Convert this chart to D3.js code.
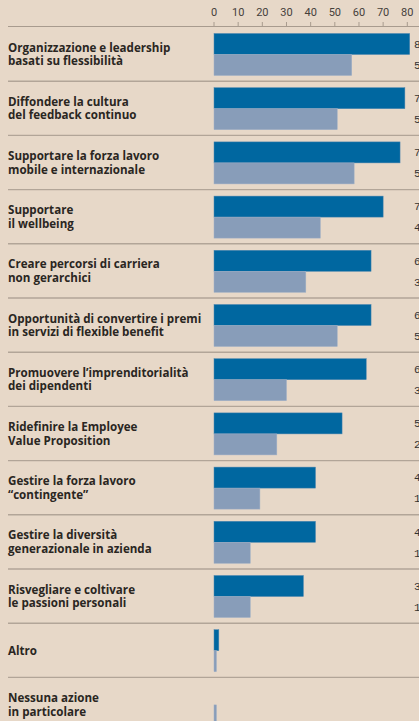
<!DOCTYPE html>
<html>
<head>
<meta charset="utf-8">
<script src="https://cdn.jsdelivr.net/npm/d3@7"></script>
<style>
  html, body { margin: 0; padding: 0; background: #e7d8c8; overflow: hidden; }
  svg { display: block; }
</style>
</head>
<body>
<div id="chart"></div>
<script>
const categories = [
  "Organizzazione e leadership\nbasati su flessibilità",
  "Diffondere la cultura\ndel feedback continuo",
  "Supportare la forza lavoro\nmobile e internazionale",
  "Supportare\nil wellbeing",
  "Creare percorsi di carriera\nnon gerarchici",
  "Opportunità di convertire i premi\nin servizi di flexible benefit",
  "Promuovere l’imprenditorialità\ndei dipendenti",
  "Ridefinire la Employee\nValue Proposition",
  "Gestire la forza lavoro\n“contingente”",
  "Gestire la diversità\ngenerazionale in azienda",
  "Risvegliare e coltivare\nle passioni personali",
  "Altro",
  "Nessuna azione\nin particolare"
];
const seriesA = [81, 79, 77, 70, 65, 65, 63, 53, 42, 42, 37, 2, 0];
const seriesB = [57, 51, 58, 44, 38, 51, 30, 26, 19, 15, 15, 1, 1];
const tickValues = [0, 10, 20, 30, 40, 50, 60, 70, 80];
// the last two rows carry no value labels in the original
const labelledRows = 11;

const width = 419, height = 721;

const svg = d3.select("#chart").append("svg")
  .attr("width", width)
  .attr("height", height);

// horizontal value scale, 0 sits just right of the labels
const x = d3.scaleLinear().domain([0, 80]).range([214, 407.3]);

// one band per question
const y = d3.scaleBand()
  .domain(categories)
  .range([27, 27 + categories.length * 54.2]);

const rows = categories.map((c, i) => ({label: c, a: seriesA[i], b: seriesB[i], i}));

// top axis
svg.append("line")
  .attr("x1", 8).attr("x2", width)
  .attr("y1", 26.5).attr("y2", 26.5)
  .attr("stroke", "#a89b8e")
  .attr("stroke-width", 1.2);

svg.selectAll(".tick")
  .data(tickValues)
  .join("line")
  .attr("class", "tick")
  .attr("x1", d => x(d)).attr("x2", d => x(d))
  .attr("y1", 22).attr("y2", 26.5)
  .attr("stroke", "#a89b8e")
  .attr("stroke-width", 1);

svg.selectAll(".tick-label")
  .data(tickValues)
  .join("text")
  .attr("class", "tick-label")
  .attr("x", d => x(d))
  .attr("y", 16)
  .attr("text-anchor", "middle")
  .attr("font-family", "Roboto, 'DejaVu Sans', sans-serif")
  .attr("font-size", 11)
  .attr("fill", "#45403b")
  .text(d => d);

const row = svg.selectAll(".row")
  .data(rows)
  .join("g")
  .attr("class", "row")
  .attr("transform", d => `translate(0,${y(d.label)})`);

// separator under each row (except the last, cut off by the frame)
row.filter(d => d.i < rows.length - 1)
  .append("line")
  .attr("x1", 8).attr("x2", width)
  .attr("y1", y.bandwidth()).attr("y2", y.bandwidth())
  .attr("stroke", "#b2a598")
  .attr("stroke-width", 1.4);

row.append("rect")
  .attr("x", x(0))
  .attr("y", 6.5)
  .attr("width", d => x(d.a) - x(0))
  .attr("height", 21)
  .attr("fill", "#0067a0")
  .attr("stroke", d => d.a > 0 ? "#4d86b0" : "none")
  .attr("stroke-width", 0.5);

row.append("rect")
  .attr("x", x(0))
  .attr("y", 27.5)
  .attr("width", d => x(d.b) - x(0))
  .attr("height", 21)
  .attr("fill", "#889db9")
  .attr("stroke", "#9fb0c6")
  .attr("stroke-width", 0.5);

// value labels, partly outside the frame like the original
const valued = row.filter(d => d.i < labelledRows);

valued.append("text")
  .attr("x", 414)
  .attr("y", 17)
  .attr("dy", "0.35em")
  .attr("font-family", "'Liberation Mono', monospace")
  .attr("font-size", 11)
  .attr("fill", "#333")
  .text(d => d.a);

valued.append("text")
  .attr("x", 414)
  .attr("y", 38)
  .attr("dy", "0.35em")
  .attr("font-family", "'Liberation Mono', monospace")
  .attr("font-size", 11)
  .attr("fill", "#333")
  .text(d => d.b);

// question labels, one or two lines
row.each(function (d) {
  const lines = d.label.split("\n");
  const mid = y.bandwidth() / 2;
  const lh = 13.7;
  const t = d3.select(this).append("text")
    .attr("x", 8)
    .attr("font-family", "'Open Sans', Roboto, sans-serif")
    .attr("font-weight", 700)
    .attr("font-size", 11.6)
    .attr("fill", "#2a2622");
  lines.forEach((l, i) => {
    t.append("tspan")
      .attr("x", 8)
      .attr("y", mid + 4.3 + (i - (lines.length - 1) / 2) * lh)
      .text(l);
  });
});
</script>
</body>
</html>
